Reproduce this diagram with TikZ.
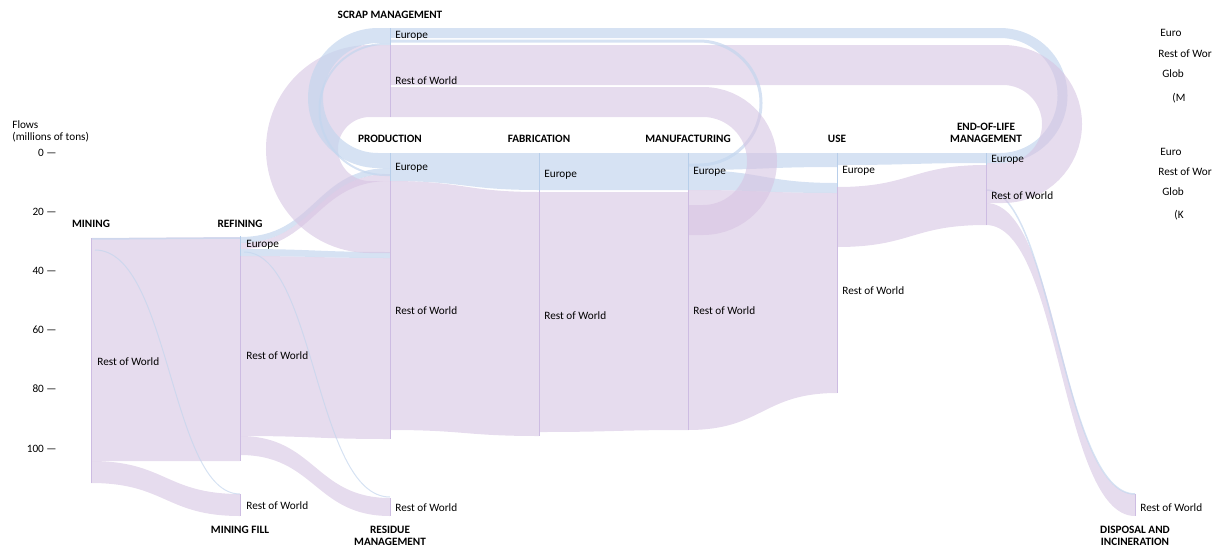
\documentclass[tikz,border=0pt]{standalone}
\usepackage{fontspec}
\setmainfont{Carlito}
\definecolor{rowcol}{RGB}{214,196,226}
\definecolor{eucol}{RGB}{196,214,238}
\definecolor{rowbarcol}{RGB}{205,188,226}
\definecolor{eubarcol}{RGB}{184,206,234}
% band between two bars: x1, top1, bottom1, x2, top2, bottom2, style
\newcommand{\band}[7]{\fill[#7] (#1,#2) .. controls ({(#1+#4)/2},#2) and ({(#1+#4)/2},#5) .. (#4,#5)
  -- (#4,#6) .. controls ({(#1+#4)/2},#6) and ({(#1+#4)/2},#3) .. (#1,#3) -- cycle;}
\begin{document}
\begin{tikzpicture}[x=0.02cm,y=-0.02cm,
    lab/.style={anchor=west,inner sep=0pt,font=\fontsize{6.4}{7}\selectfont},
    head/.style={align=center,inner sep=0pt,font=\fontsize{6.4}{6.9}\selectfont\bfseries},
    tick/.style={anchor=east,inner sep=0pt,font=\fontsize{6.4}{7}\selectfont},
    rowf/.style={fill=rowcol,fill opacity=0.6},
    euf/.style={fill=eucol,fill opacity=0.7},
    rowl/.style={draw=rowcol,draw opacity=0.6,line width=#1*0.02cm},
    eul/.style={draw=eucol,draw opacity=0.7,line width=#1*0.02cm},
    rowbar/.style={draw=rowbarcol,line width=0.5pt},
    eubar/.style={draw=eubarcol,line width=0.5pt}]
  \useasboundingbox (0,0) rectangle (1216,548);

  % Achse
  \node[lab] (flows) at (12,125) {Flows};
  \node[lab] (unit) at (12,137) {(millions of tons)};
  \node[tick] (t0) at (57,153) {0 \textemdash};
  \node[tick] (t20) at (57,212) {20 \textemdash};
  \node[tick] (t40) at (57,271) {40 \textemdash};
  \node[tick] (t60) at (57,330) {60 \textemdash};
  \node[tick] (t80) at (57,389) {80 \textemdash};
  \node[tick] (t100) at (57,449) {100 \textemdash};

  % Bergbau und Raffination
  \band{91}{238}{461}{240}{237}{461}{rowf}
  \band{91}{461}{483}{240}{494}{516}{rowf}
  \band{240}{436}{455}{390}{498}{516}{rowf}
  \band{240}{256}{436}{390}{258}{439}{rowf}
  \band{240}{237}{243}{390}{168}{174}{euf}
  \band{240}{243}{249}{390}{174}{181}{rowf}
  \band{240}{249}{256}{390}{252}{258}{euf}
  \draw[eul=1.5] (91,239) -- (240,238);
  \draw[eul=1] (95,250) .. controls (170,250) and (170,494) .. (240,494);
  \draw[eul=1] (244,252) .. controls (315,252) and (315,497) .. (390,497);

  % Produktion bis Nutzung
  \band{390}{153}{181}{539}{153}{190}{euf}
  \band{390}{181}{430}{539}{192}{436}{rowf}
  \band{539}{153}{190}{688}{153}{190}{euf}
  \band{539}{192}{432}{688}{192}{430}{rowf}
  \band{688}{153}{170}{837}{153}{167}{euf}
  \band{688}{170}{190}{837}{183}{193}{euf}
  \band{688}{190}{430}{837}{193}{393}{rowf}
  \band{837}{153}{165}{986}{153}{163}{euf}
  \band{837}{187}{247}{986}{165}{225}{rowf}

  % Entsorgung
  \band{986}{203}{225}{1135}{494}{516}{rowf}
  \draw[eul=1.5] (986,190) .. controls (1052,190) and (1062,494) .. (1135,494);

  % Schrott-Schleifen
  \draw[rowl=72] (390,81) -- (370,81) to[out=180,in=90] (302,149) to[out=-90,in=180] (370,217) -- (390,217);
  \draw[eul=15] (390,35.5) -- (378,35.5) to[out=180,in=90] (315.5,98) to[out=-90,in=180] (378,160.5) -- (390,160.5);
  \draw[eul=2] (390,44) -- (385,44) to[out=180,in=90] (319.5,109.5) to[out=-90,in=180] (385,175) -- (390,175);
  \draw[eul=10] (986,158) -- (1000,158) to[out=0,in=-90] (1062.5,95.5) to[out=90,in=0] (1000,33) -- (390,33);
  \draw[rowl=40] (986,183) -- (1003,183) to[out=0,in=-90] (1062,124) to[out=90,in=0] (1003,65) -- (390,65);
  \draw[eul=3] (688,165) -- (699,165) to[out=0,in=-90] (761,103) to[out=90,in=0] (699,41) -- (390,41);
  \draw[rowl=30] (688,220) -- (703,220) to[out=0,in=-90] (762,161) to[out=90,in=0] (703,102) -- (390,102);

  % Knotenbalken
  \draw[rowbar] (91,238) -- (91,483);
  \draw[eubar] (240,236) -- (240,256);
  \draw[rowbar] (240,256) -- (240,461);
  \draw[rowbar] (240,494) -- (240,516);
  \draw[eubar] (390,28) -- (390,45);
  \draw[rowbar] (390,45) -- (390,117);
  \draw[eubar] (390,153) -- (390,181);
  \draw[rowbar] (390,181) -- (390,439);
  \draw[rowbar] (390,498) -- (390,516);
  \draw[eubar] (539,153) -- (539,191);
  \draw[rowbar] (539,191) -- (539,436);
  \draw[eubar] (688,153) -- (688,190);
  \draw[rowbar] (688,190) -- (688,430);
  \draw[eubar] (837,153) -- (837,187);
  \draw[rowbar] (837,187) -- (837,393);
  \draw[eubar] (986,153) -- (986,165);
  \draw[rowbar] (986,165) -- (986,225);
  \draw[rowbar] (1135,494) -- (1135,516);

  % Stufen
  \node[head] (mining) at (91,224) {MINING};
  \node[head] (refining) at (240,224) {REFINING};
  \node[head] (scrap) at (390,15) {SCRAP MANAGEMENT};
  \node[head] (production) at (390,139) {PRODUCTION};
  \node[head] (fabrication) at (539,139) {FABRICATION};
  \node[head] (manufacturing) at (688,139) {MANUFACTURING};
  \node[head] (use) at (837,139) {USE};
  \node[head] (eol) at (986,133) {END-OF-LIFE\\MANAGEMENT};
  \node[head] (fill) at (240,530) {MINING FILL};
  \node[head] (residue) at (390,536) {RESIDUE\\MANAGEMENT};
  \node[head] (disposal) at (1135,536) {DISPOSAL AND\\INCINERATION};

  % Regionen
  \node[lab] (miningRow) at (97,362) {Rest of World};
  \node[lab] (refiningEu) at (246,245) {Europe};
  \node[lab] (refiningRow) at (246,356) {Rest of World};
  \node[lab] (fillRow) at (246,506) {Rest of World};
  \node[lab] (scrapEu) at (395,36) {Europe};
  \node[lab] (scrapRow) at (395,81) {Rest of World};
  \node[lab] (productionEu) at (395,168) {Europe};
  \node[lab] (productionRow) at (395,311) {Rest of World};
  \node[lab] (residueRow) at (395,508) {Rest of World};
  \node[lab] (fabricationEu) at (544,175) {Europe};
  \node[lab] (fabricationRow) at (544,316) {Rest of World};
  \node[lab] (manufacturingEu) at (693,172) {Europe};
  \node[lab] (manufacturingRow) at (693,311) {Rest of World};
  \node[lab] (useEu) at (842,171) {Europe};
  \node[lab] (useRow) at (842,291) {Rest of World};
  \node[lab] (eolEu) at (991,160) {Europe};
  \node[lab] (eolRow) at (991,196) {Rest of World};
  \node[lab] (disposalRow) at (1140,508) {Rest of World};

  % Legende (abgeschnitten)
  \node[lab] (legEuA) at (1160,33) {Euro};
  \node[lab] (legRowA) at (1158,54) {Rest of Wor};
  \node[lab] (legGlobA) at (1162,74) {Glob};
  \node[lab] (legUnitA) at (1172,98) {(M};
  \node[lab] (legEuB) at (1160,152) {Euro};
  \node[lab] (legRowB) at (1158,172) {Rest of Wor};
  \node[lab] (legGlobB) at (1162,192) {Glob};
  \node[lab] (legUnitB) at (1174,215) {(K};
\end{tikzpicture}
\end{document}
